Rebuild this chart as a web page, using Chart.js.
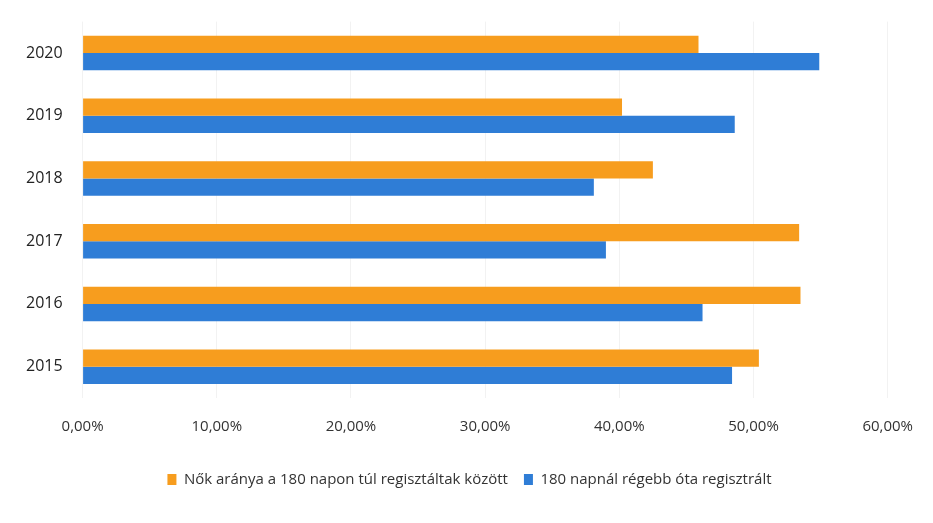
<!DOCTYPE html>
<html>
<head>
<meta charset="utf-8">
<script src="https://cdn.jsdelivr.net/npm/chart.js@4.4.0/dist/chart.umd.min.js"></script>
<style>
  html, body { margin: 0; padding: 0; background: #fff; }
  #wrap { width: 933px; height: 523px; }
</style>
</head>
<body>
<div id="wrap"><canvas id="myChart"></canvas></div>
<script>
// years, bottom to top in the picture
var years = ['2015', '2016', '2017', '2018', '2019', '2020'];
// share of women among those registered more than 180 days (%)
var nokAranya = [50.4, 53.5, 53.4, 42.5, 40.2, 45.9];
// registered more than 180 days (%)
var regebbOta = [48.4, 46.2, 39.0, 38.1, 48.6, 54.9];
var xTicks = [0, 10, 20, 30, 40, 50, 60];

var seriesNames = ['Nők aránya a 180 napon túl regisztáltak között', '180 napnál régebb óta regisztrált'];

var ctx = document.getElementById('myChart');
var myBarChart = new Chart(ctx, {
    type: 'bar',
    data: {
        labels: years,
        datasets: [{
            label: seriesNames[0],
            data: nokAranya,
            backgroundColor: '#F79D1E',
            barPercentage: 1,
            categoryPercentage: 0.55,
        }, {
            label: seriesNames[1],
            data: regebbOta,
            backgroundColor: '#2F7DD6',
            barPercentage: 1,
            categoryPercentage: 0.55,
        }],
    },
    options: {
        indexAxis: 'y',
        responsive: true,
        maintainAspectRatio: false,
        animation: false,
        layout: {
            padding: { left: 14, right: 8, top: 12, bottom: 26 },
        },
        plugins: {
            legend: {
                position: 'bottom',
                labels: {
                    boxWidth: 9,
                    boxHeight: 11,
                    padding: 16,
                    color: '#333',
                    font: { family: 'Open Sans', size: 15 },
                },
            },
            tooltip: { enabled: false },
        },
        scales: {
            x: {
                min: 0,
                max: 60,
                afterBuildTicks: function (axis) {
                    axis.ticks = xTicks.map(function (v) { return { value: v }; });
                },
                ticks: {
                    padding: 20,
                    color: '#333',
                    font: { family: 'Open Sans', size: 15 },
                    callback: function (v) {
                        return v.toFixed(2).replace('.', ',') + '%';
                    },
                },
                grid: { color: '#f2f2f2', drawTicks: false },
                border: { display: false },
            },
            y: {
                reverse: true,
                ticks: {
                    padding: 12,
                    color: '#222',
                    font: { family: 'Open Sans', size: 16 },
                },
                grid: { display: false },
                border: { display: false },
            },
        },
    },
});
</script>
</body>
</html>
